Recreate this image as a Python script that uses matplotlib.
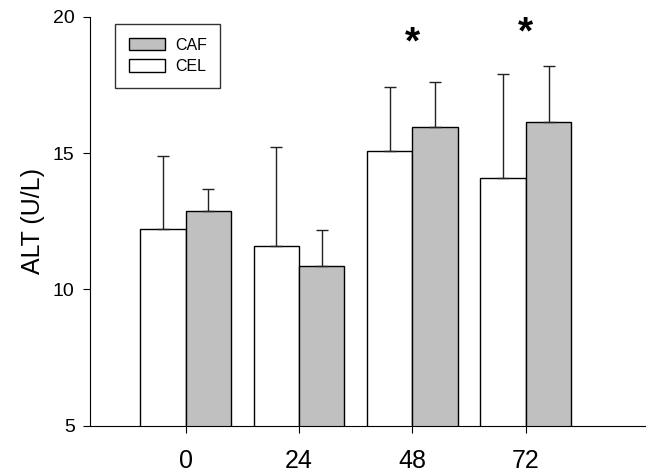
import numpy as np
import matplotlib
matplotlib.use('Agg')
import matplotlib.pyplot as plt

plt.rcParams['font.family'] = ['Liberation Sans', 'DejaVu Sans']

hours = ['0', '24', '48', '72']
cel = [12.2, 11.6, 15.06, 14.08]
cel_err = [2.68, 3.62, 2.37, 3.81]
caf = [12.87, 10.87, 15.94, 16.14]
caf_err = [0.82, 1.31, 1.65, 2.06]
star_groups = [2, 3]
star_y = [19.0, 19.4]

fig = plt.figure(figsize=(6.46, 4.76), dpi=100)
ax = fig.add_axes([0.1393, 0.1057, 0.8607, 0.8593])

x = np.arange(len(hours))
w = 0.4
kw = dict(capsize=4, ecolor='#222222', error_kw=dict(elinewidth=1, capthick=1))
ax.bar(x - w / 2, cel, w, yerr=[np.zeros(4), cel_err], color='white',
       edgecolor='black', linewidth=1, label='CEL', zorder=2, **kw)
ax.bar(x + w / 2, caf, w, yerr=[np.zeros(4), caf_err], color='#c0c0c0',
       edgecolor='black', linewidth=1, label='CAF', zorder=2, **kw)

for g, yy in zip(star_groups, star_y):
    ax.text(g, yy, '*', ha='center', va='center', fontsize=28, fontweight='bold')

ax.set_xlim(-0.845, 4.06)
ax.set_ylim(5, 20)
ax.set_yticks([5, 10, 15, 20])
ax.set_xticks(x)
ax.set_xticklabels(hours)
ax.tick_params(axis='x', labelsize=18, length=5, pad=12)
ax.tick_params(axis='y', labelsize=14, length=5, pad=6)
ax.set_ylabel('ALT (U/L)', fontsize=18, labelpad=6)
for s in ['top', 'right']:
    ax.spines[s].set_visible(False)

h, l = ax.get_legend_handles_labels()
leg = ax.legend(h[::-1], l[::-1], loc='upper left', bbox_to_anchor=(0.045, 0.982),
                borderaxespad=0, fontsize=11.5, frameon=True, fancybox=False,
                edgecolor='black', handlelength=2.3, handleheight=0.8,
                borderpad=0.85, labelspacing=0.4, handletextpad=0.6)
leg.get_frame().set_linewidth(1)

fig.savefig('out.png', dpi=100)
